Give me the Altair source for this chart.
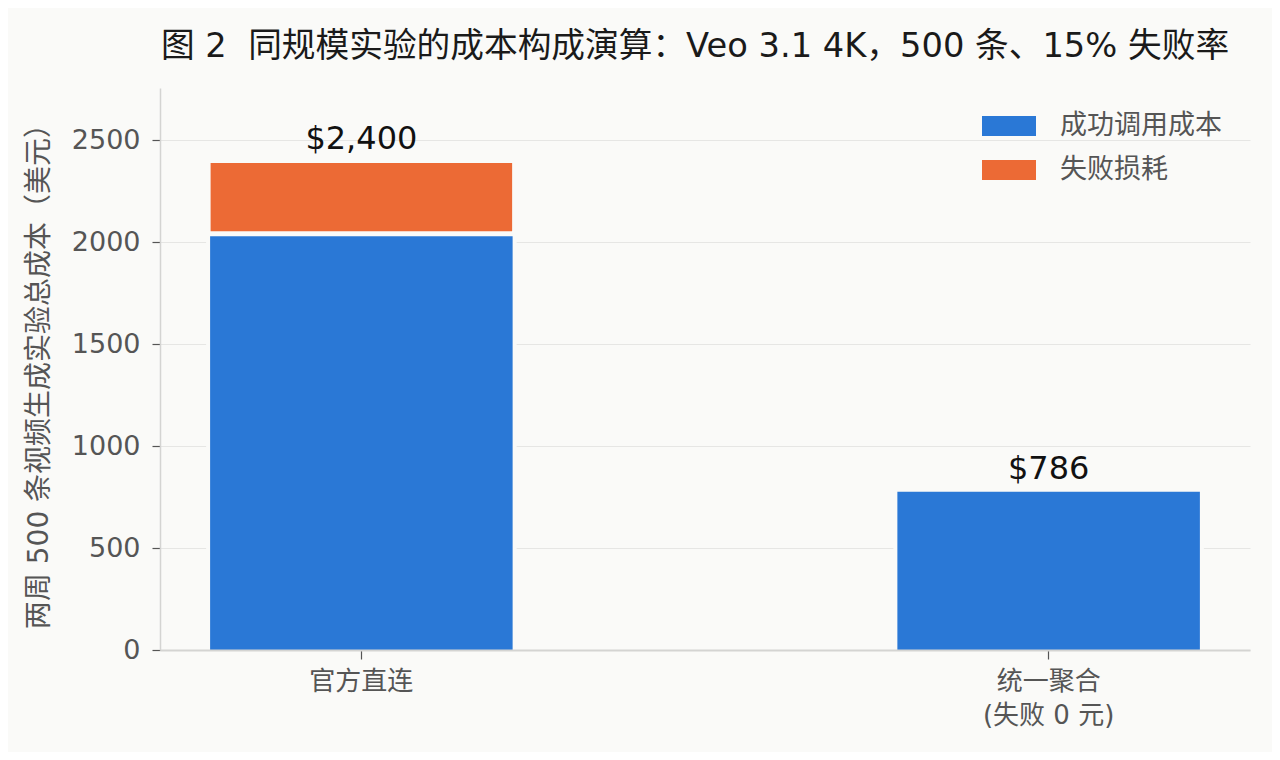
import altair as alt
import pandas as pd

categories = ["官方直连", "统一聚合\n(失败 0 元)"]
series_names = ["成功调用成本", "失败损耗"]
success_cost = [2040, 786]
failure_cost = [360, 0]
total_labels = ["$2,400", "$786"]
y_ticks = [0, 500, 1000, 1500, 2000, 2500]
colors = ["#2a78d6", "#ec6a35"]

succ_df = pd.DataFrame({
    "category": categories,
    "series": series_names[0],
    "lo": [0] * len(categories),
    "hi": success_cost,
})
fail_df = pd.DataFrame({
    "category": categories,
    "series": series_names[1],
    "lo": success_cost,
    "hi": [s + f for s, f in zip(success_cost, failure_cost)],
    "amt": failure_cost,
})
fail_df = fail_df[fail_df["amt"] > 0]

tot = pd.DataFrame({
    "category": categories,
    "total": [s + f for s, f in zip(success_cost, failure_cost)],
    "label": total_labels,
})

FONT = "'DejaVu Sans', 'Noto Sans CJK SC', sans-serif"
BG = "#fafaf8"

x_enc = alt.X(
    "category:N",
    sort=categories,
    scale=alt.Scale(paddingInner=0.554, paddingOuter=0.07),
    axis=alt.Axis(
        title=None, labelAngle=0, labelExpr="split(datum.label, '\\n')",
        labelFontSize=26, labelColor="#555555", labelLineHeight=34,
        tickSize=9, tickColor="#555555", tickWidth=1.2, labelPadding=9,
        domainColor="#d4d4d2", domainWidth=2, grid=False, labelFont=FONT,
        zindex=1,
    ),
)

y_axis = alt.Axis(
    title="两周 500 条视频生成实验总成本（美元）", values=y_ticks, format="d",
    labelFontSize=27, labelColor="#555555", titleFontSize=28,
    titleColor="#555555", titleFontWeight="normal", tickSize=8,
    tickColor="#555555", tickWidth=1.2, labelPadding=12,
    titlePadding=18, domainColor="#d4d4d2", domainWidth=1.5,
    gridColor="#e6e6e4", gridWidth=1.2, labelFont=FONT, titleFont=FONT,
)
y_scale = alt.Scale(domain=[0, 2755], nice=False, zero=True)

color_enc = alt.Color(
    "series:N",
    scale=alt.Scale(domain=series_names, range=colors),
    legend=alt.Legend(
        title=None, orient="none", legendX=829, legendY=18,
        symbolType="M-1.35,-0.5H1.35V0.5H-1.35Z", symbolSize=1600,
        labelFontSize=27, labelColor="#555555", labelOffset=31,
        labelLimit=400, rowPadding=11, padding=0, labelFont=FONT,
        symbolStrokeWidth=0,
    ),
)

succ_bars = alt.Chart(succ_df).mark_bar(stroke=BG, strokeWidth=4, y2Offset=3).encode(
    x=x_enc,
    y=alt.Y("hi:Q", scale=y_scale, axis=y_axis),
    y2="lo:Q",
    color=color_enc,
)

fail_bars = alt.Chart(fail_df).mark_bar(stroke=BG, strokeWidth=5).encode(
    x=alt.X("category:N", sort=categories),
    y=alt.Y("hi:Q"),
    y2="lo:Q",
    color=alt.Color("series:N"),
)

labels = alt.Chart(tot).mark_text(
    baseline="bottom", dy=-4, fontSize=32, color="#111111", font=FONT
).encode(
    x=alt.X("category:N", sort=categories),
    y=alt.Y("total:Q"),
    text="label:N",
)

chart = (
    alt.layer(succ_bars, fail_bars, labels)
    .properties(
        width=1090, height=562,
        title=alt.TitleParams(
            "图 2\u00a0\u00a0同规模实验的成本构成演算：Veo 3.1 4K，500 条、15% 失败率",
            fontSize=33.7, fontWeight="normal", color="#1a1a1a", font=FONT,
            anchor="middle", offset=24, dx=-10,
        ),
        background=BG,
        padding={"left": 152, "top": 80, "right": 22, "bottom": 102},
        autosize=alt.AutoSizeParams(type="none"),
    )
    .configure_view(stroke=None)
)

chart.save("out.html", embed_options={"renderer": "svg", "actions": False})
